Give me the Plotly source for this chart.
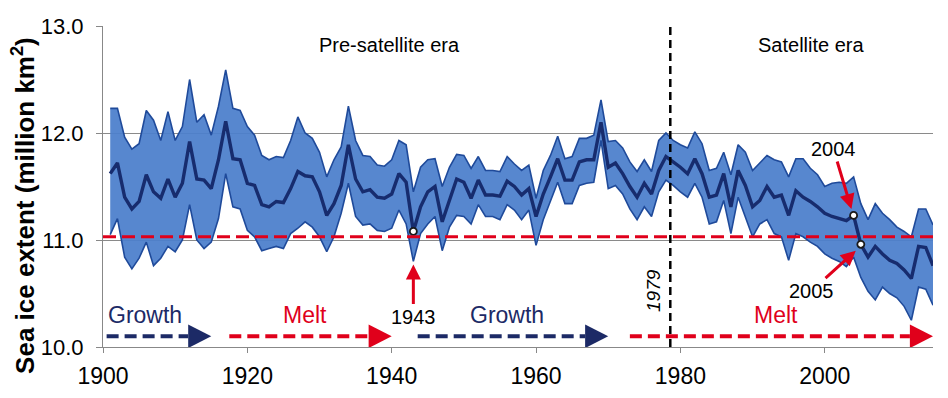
import plotly.graph_objects as go

years = list(range(1901, 2016))

mean_extent = [
    11.62, 11.72, 11.40, 11.29, 11.36, 11.61, 11.45, 11.39, 11.57, 11.40,
    11.53, 11.92, 11.57, 11.56, 11.48, 11.75, 12.11, 11.76, 11.75, 11.53,
    11.51, 11.33, 11.31, 11.36, 11.35, 11.48, 11.64, 11.60, 11.59, 11.45,
    11.23, 11.34, 11.51, 11.89, 11.57, 11.45, 11.47, 11.40, 11.39, 11.43,
    11.62, 11.54, 11.08, 11.31, 11.45, 11.50, 11.17, 11.37, 11.57, 11.54,
    11.39, 11.56, 11.42, 11.42, 11.41, 11.55, 11.50, 11.42, 11.48, 11.22,
    11.43, 11.59, 11.76, 11.56, 11.56, 11.73, 11.75, 11.75, 12.10, 11.68,
    11.72, 11.62, 11.50, 11.40, 11.53, 11.43, 11.65, 11.78, 11.73, 11.68,
    11.62, 11.76, 11.62, 11.40, 11.42, 11.62, 11.31, 11.65, 11.51, 11.31,
    11.37, 11.50, 11.40, 11.42, 11.23, 11.46, 11.40, 11.36, 11.31, 11.25,
    11.22, 11.20, 11.18, 11.23, 10.96, 10.84, 10.94, 10.87, 10.81, 10.78,
    10.72, 10.64, 10.94, 10.93, 10.76,
]

upper_extent = [
    12.23, 12.23, 11.96, 11.85, 11.90, 12.21, 12.12, 11.93, 12.20, 11.93,
    12.06, 12.50, 12.10, 12.17, 11.98, 12.25, 12.59, 12.23, 12.21, 12.06,
    11.98, 11.79, 11.75, 11.78, 11.77, 11.93, 12.15, 12.00, 11.95, 11.82,
    11.59, 11.75, 11.87, 12.25, 11.93, 11.79, 11.78, 11.70, 11.69, 11.75,
    11.93, 11.89, 11.45, 11.68, 11.75, 11.76, 11.50, 11.68, 11.80, 11.79,
    11.67, 11.78, 11.65, 11.65, 11.64, 11.78, 11.71, 11.65, 11.70, 11.39,
    11.65, 11.79, 11.97, 11.76, 11.78, 11.95, 11.95, 11.98, 12.31, 11.92,
    11.93, 11.86, 11.73, 11.64, 11.75, 11.64, 11.93, 12.00, 11.93, 11.89,
    11.86, 12.01, 11.90, 11.65, 11.67, 11.82, 11.61, 11.89, 11.82, 11.65,
    11.72, 11.79, 11.75, 11.73, 11.59, 11.76, 11.76, 11.67, 11.61, 11.50,
    11.53, 11.54, 11.53, 11.59, 11.34, 11.19, 11.34, 11.25, 11.19, 11.12,
    11.08, 11.03, 11.29, 11.29, 11.14,
]

lower_extent = [
    11.05, 11.20, 10.84, 10.73, 10.83, 10.98, 10.76, 10.83, 10.94, 10.89,
    11.00, 11.33, 11.00, 10.92, 10.98, 11.20, 11.62, 11.31, 11.29, 11.09,
    11.03, 10.90, 10.92, 10.94, 10.92, 11.06, 11.11, 11.17, 11.12, 11.03,
    10.89, 11.03, 11.25, 11.53, 11.22, 11.14, 11.15, 11.09, 11.08, 11.11,
    11.28, 11.15, 10.80, 11.06, 11.15, 11.22, 10.90, 11.12, 11.23, 11.22,
    11.15, 11.33, 11.22, 11.22, 11.19, 11.33, 11.28, 11.19, 11.28, 10.95,
    11.19, 11.37, 11.54, 11.34, 11.34, 11.51, 11.53, 11.54, 11.93, 11.48,
    11.51, 11.43, 11.29, 11.19, 11.31, 11.22, 11.45, 11.56, 11.51, 11.45,
    11.40, 11.53, 11.40, 11.15, 11.17, 11.37, 11.06, 11.40, 11.22, 11.03,
    11.15, 11.19, 11.06, 11.03, 10.81, 11.06, 11.03, 10.98, 10.94, 10.87,
    10.83, 10.80, 10.75, 10.84, 10.65, 10.52, 10.44, 10.56, 10.50, 10.46,
    10.38, 10.25, 10.56, 10.54, 10.39,
]

threshold_value = 11.03
satellite_start = 1978.6
highlight_years = [1943, 2004, 2005]
x_ticks = [1900, 1920, 1940, 1960, 1980, 2000]
y_ticks = [10.0, 11.0, 12.0, 13.0]

growth_periods = [(1900.5, 1915.0), (1943.6, 1970.0)]
melt_periods = [(1917.5, 1940.0), (1973.0, 2015.0)]
growth_label_x = [1905.8, 1956.0]
melt_label_x = [1928.0, 1993.2]

NAVY = "#1c2a66"
RED = "#e0001b"
FILL = "rgba(76,127,204,0.94)"
EDGE = "#1f4a9a"
MEAN = "#172c6e"
FONT = "Liberation Sans, Arial, sans-serif"

fig = go.Figure()

fig.add_trace(go.Scatter(x=years, y=upper_extent, mode="lines",
                         line=dict(color=EDGE, width=1.6), showlegend=False,
                         hoverinfo="skip"))
fig.add_trace(go.Scatter(x=years, y=lower_extent, mode="lines", fill="tonexty",
                         fillcolor=FILL, line=dict(color=EDGE, width=1.6),
                         showlegend=False, hoverinfo="skip"))
fig.add_trace(go.Scatter(x=years, y=mean_extent, mode="lines",
                         line=dict(color=MEAN, width=3.4), showlegend=False))

# threshold line
fig.add_shape(type="line", xref="x", yref="y", x0=1900, x1=2015,
              y0=threshold_value, y1=threshold_value,
              line=dict(color=RED, width=3, dash="13px,6px"))
# satellite-era line
fig.add_shape(type="line", xref="x", yref="paper", x0=satellite_start,
              x1=satellite_start, y0=0, y1=1,
              line=dict(color="black", width=2.5, dash="8px,5px"))

hl_vals = [mean_extent[years.index(y)] for y in highlight_years]
fig.add_trace(go.Scatter(x=highlight_years, y=hl_vals, mode="markers",
                         marker=dict(size=7, color="white",
                                     line=dict(color="#1a1a1a", width=1.8)),
                         showlegend=False))

# period arrows
arrow_y = 10.10
tri_len = 3.2
tri_half = 0.11


def period_arrow(x0, x1, color):
    base = x1 - tri_len
    fig.add_shape(type="line", xref="x", yref="y", x0=x0, x1=base,
                  y0=arrow_y, y1=arrow_y,
                  line=dict(color=color, width=4, dash="12px,6px"))
    fig.add_shape(type="path", xref="x", yref="y",
                  path=f"M {base},{arrow_y - tri_half} L {x1},{arrow_y} "
                       f"L {base},{arrow_y + tri_half} Z",
                  fillcolor=color, line=dict(color=color, width=0))


for a, b in growth_periods:
    period_arrow(a, b, NAVY)
for a, b in melt_periods:
    period_arrow(a, b, RED)

annots = []
for gx in growth_label_x:
    annots.append(dict(x=gx, y=10.30, xref="x", yref="y", text="Growth",
                       showarrow=False, font=dict(size=23, color=NAVY, family=FONT)))
for mx in melt_label_x:
    annots.append(dict(x=mx, y=10.30, xref="x", yref="y", text="Melt",
                       showarrow=False, font=dict(size=23, color=RED, family=FONT)))

annots += [
    dict(x=-0.095, y=0.44, xref="paper", yref="paper",
         text="<b>Sea ice extent (million km<sup>2</sup>)</b>",
         showarrow=False, textangle=-90, xanchor="center", yanchor="middle",
         borderpad=0,
         font=dict(size=26, color="black", family=FONT)),
    dict(x=1939.7, y=12.82, xref="x", yref="y", text="Pre-satellite era",
         showarrow=False, font=dict(size=20, color="black", family=FONT)),
    dict(x=1998.1, y=12.82, xref="x", yref="y", text="Satellite era",
         showarrow=False, font=dict(size=20, color="black", family=FONT)),
    dict(x=1976.3, y=10.53, xref="x", yref="y", text="<i>1979</i>",
         showarrow=False, textangle=-90,
         font=dict(size=19, color="black", family=FONT)),
    dict(x=1943, y=10.77, xref="x", yref="y", text="1943", showarrow=True,
         ax=0, ay=52, arrowhead=2, arrowsize=1, arrowwidth=3,
         arrowcolor=RED, font=dict(size=20, color="black", family=FONT)),
    dict(x=2003.7, y=11.29, xref="x", yref="y", text="2004", showarrow=True,
         ax=-18, ay=-60, arrowhead=2, arrowsize=1, arrowwidth=3,
         arrowcolor=RED, font=dict(size=20, color="black", family=FONT)),
    dict(x=2004.3, y=10.90, xref="x", yref="y", text="2005", showarrow=True,
         ax=-44, ay=40, arrowhead=2, arrowsize=1, arrowwidth=3,
         arrowcolor=RED, font=dict(size=20, color="black", family=FONT)),
]

fig.update_layout(
    width=948, height=398,
    margin=dict(l=95, r=23, t=18, b=59),
    paper_bgcolor="white", plot_bgcolor="white",
    font=dict(family=FONT, color="black"),
    annotations=annots,
    showlegend=False,
)
fig.update_xaxes(range=[1900, 2015], tickvals=x_ticks, ticks="outside",
                 ticklen=5, tickcolor="#888888", showline=True,
                 linecolor="#888888", linewidth=1.2, showgrid=False,
                 zeroline=False, tickfont=dict(size=23, family=FONT),
                 ticklabelstandoff=3, automargin=False)
fig.update_yaxes(range=[10, 13], tickvals=y_ticks, tickformat=".1f",
                 ticks="outside", ticklen=6, tickcolor="#888888",
                 showline=True, linecolor="#888888", linewidth=1.2,
                 showgrid=True, gridcolor="#8a8a8a", gridwidth=1.2,
                 zeroline=False, tickfont=dict(size=22, family=FONT),
                 ticklabelstandoff=8, automargin=False)

fig.write_html("out.html")
